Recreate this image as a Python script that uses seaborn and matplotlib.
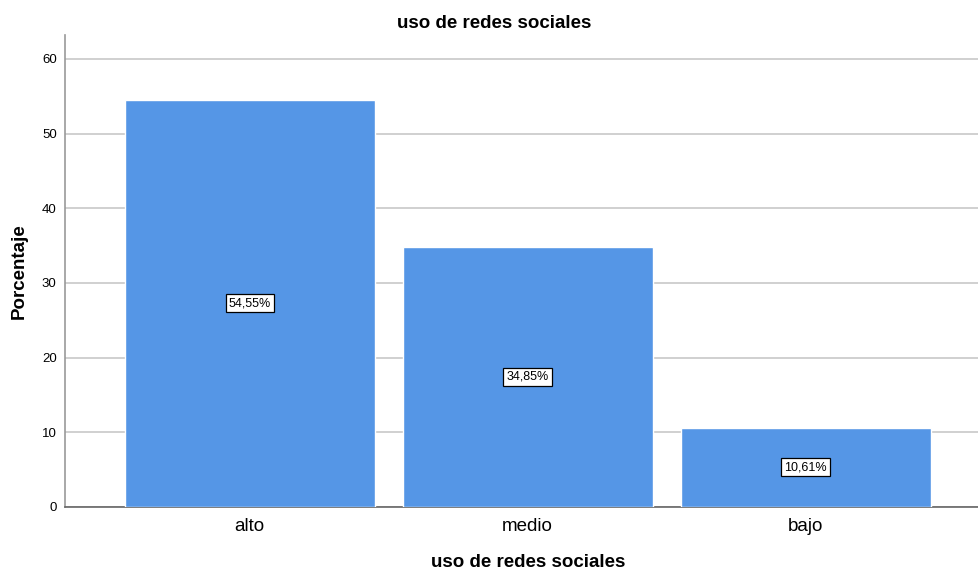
import matplotlib
matplotlib.use("Agg")
import matplotlib.pyplot as plt
import pandas as pd
import seaborn as sns

categorias = ["alto", "medio", "bajo"]
porcentajes = [54.55, 34.85, 10.61]
etiquetas = ["54,55%", "34,85%", "10,61%"]

df = pd.DataFrame({"uso": categorias, "pct": porcentajes})

sns.set_style("white")
plt.rcParams["font.family"] = ["Liberation Sans", "DejaVu Sans"]
plt.rcParams["text.color"] = "black"
plt.rcParams["axes.labelcolor"] = "black"
plt.rcParams["xtick.color"] = "black"
plt.rcParams["ytick.color"] = "black"

fig = plt.figure(figsize=(9.79, 5.73), dpi=100)
ax = fig.add_axes([0.0664, 0.1152, 0.9336, 0.8237])

sns.barplot(data=df, x="uso", y="pct", color="#5596E6", saturation=1,
            width=0.9, ax=ax, zorder=3)

for i, (v, t) in enumerate(zip(porcentajes, etiquetas)):
    ax.text(i, v / 2, t, ha="center", va="center", fontsize=9, zorder=5,
            bbox=dict(boxstyle="square,pad=0.25", fc="white", ec="black", lw=0.9))

ax.set_ylim(0, 63.2)
ax.set_xlim(-0.665, 2.624)
ax.set_yticks(range(0, 61, 10))
ax.yaxis.grid(True, color="#c8c8c8", lw=1.2, zorder=0)
ax.tick_params(axis="y", labelsize=9.5, length=0, pad=6)
ax.tick_params(axis="x", labelsize=13.5, length=0, pad=8)

for s in ["top", "right"]:
    ax.spines[s].set_visible(False)
ax.spines["left"].set_color("#999999")
ax.spines["left"].set_linewidth(1.2)
ax.spines["bottom"].set_color("#666666")
ax.spines["bottom"].set_linewidth(1.2)

ax.set_title("uso de redes sociales", fontsize=13.5, fontweight="bold", pad=5,
             x=(494 - 65) / (979 - 65))
ax.set_xlabel("uso de redes sociales", fontsize=13.5, fontweight="bold")
ax.xaxis.set_label_coords((528 - 65) / (979 - 65), -0.1)
ax.set_ylabel("Porcentaje", fontsize=13.5, fontweight="bold", labelpad=10)

fig.savefig("out.png", dpi=100)
